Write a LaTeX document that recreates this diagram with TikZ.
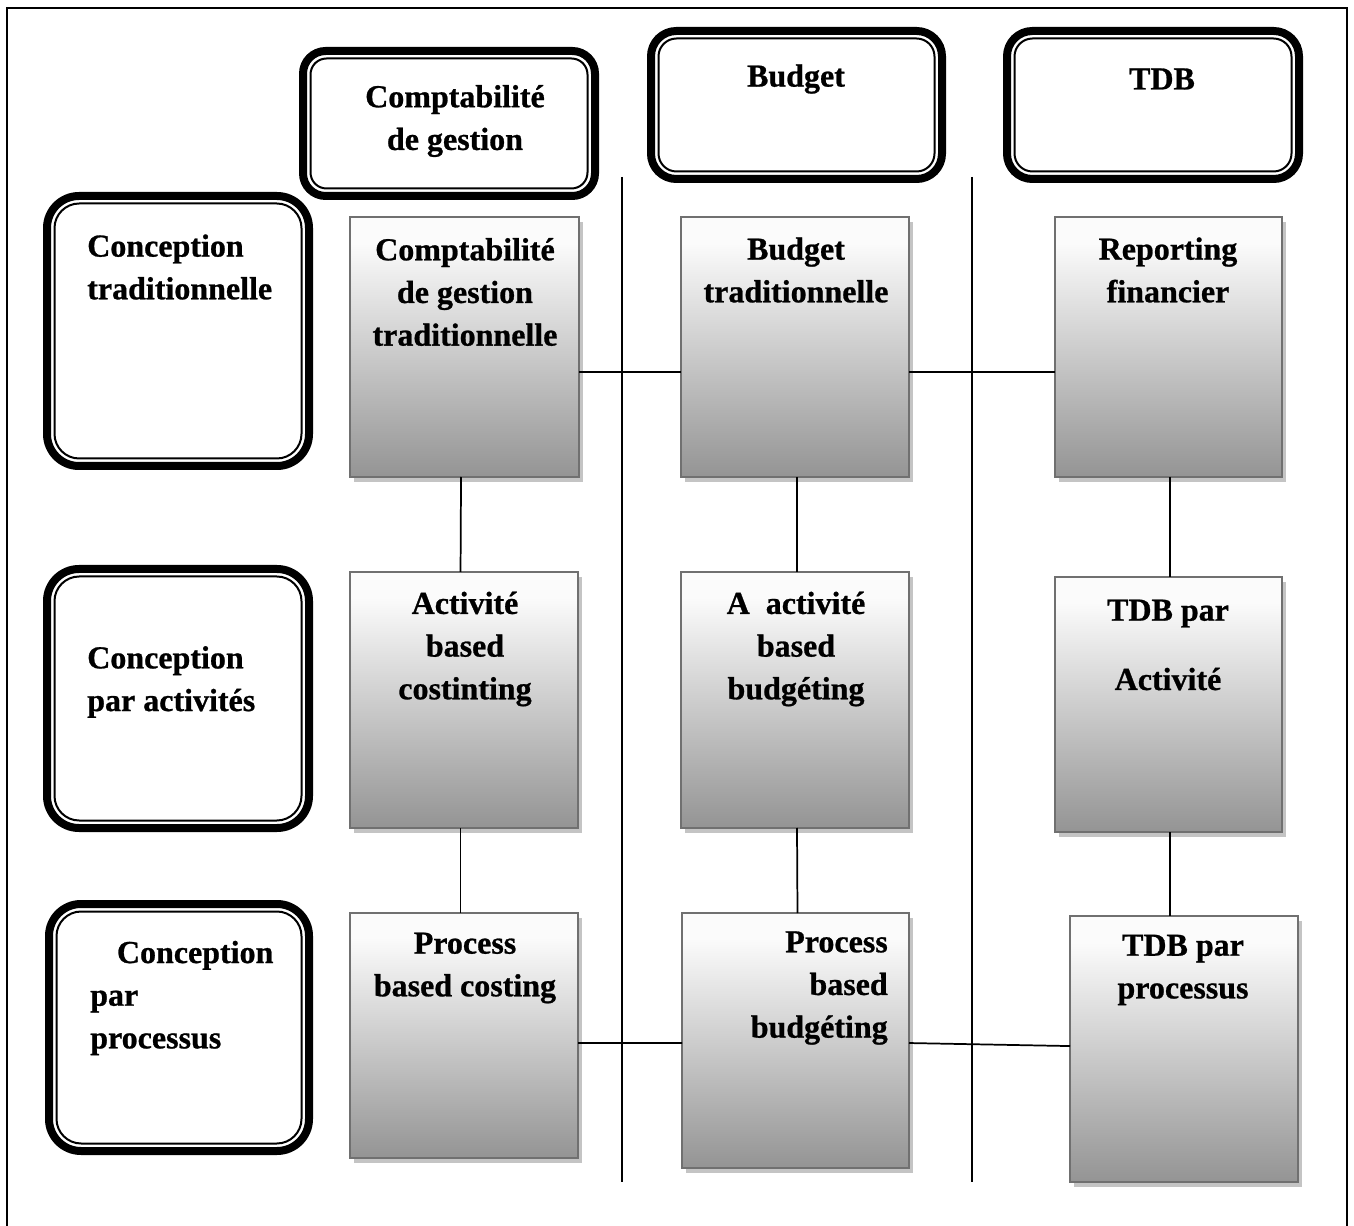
\documentclass[tikz,border=0pt]{standalone}
\usepackage{fontspec}
\setmainfont{Liberation Serif}[BoldFont={Liberation Serif Bold},BoldFeatures={FakeBold=0.8}]
\usetikzlibrary{calc}
\definecolor{shA}{RGB}{148,148,148}
\definecolor{shW}{RGB}{251,251,251}
\definecolor{boxedge}{RGB}{112,112,112}
\definecolor{shadowc}{RGB}{196,196,196}
\pgfdeclareverticalshading{boxshade}{100bp}{color(0bp)=(shA); color(25bp)=(shA); color(70bp)=(shW); color(100bp)=(shW)}
\newcommand\gbox[5]{%
  \fill[shadowc] ({#2+4},{#3+5}) rectangle ({#4+4},{#5+5});
  \node[gbox, minimum width={(#4-#2)*0.75pt}, minimum height={(#5-#3)*0.75pt}] (#1) at ({(#2+#4)/2},{(#3+#5)/2}) {};}
\newcommand\dbox[7]{%
  \node[dout, rounded corners=#6, minimum width={(#4-#2-8)*0.75pt}, minimum height={(#5-#3-8)*0.75pt}] (#1) at ({(#2+#4)/2},{(#3+#5)/2}) {};
  \draw[din, rounded corners=#7] ([shift={(7.5,7.5)}]#1.north west) rectangle ([shift={(-7.5,-7.5)}]#1.south east);}
\begin{document}
\begin{tikzpicture}[x=0.75pt,y=-0.75pt,
  lbl/.style={font=\fontsize{24}{32}\selectfont\bfseries, inner sep=0pt, align=center},
  gbox/.style={draw=boxedge, line width=1.5pt, shading=boxshade, outer sep=0pt, inner sep=0pt},
  dout/.style={draw, line width=6pt, outer sep=0pt, inner sep=0pt, fill=white},
  din/.style={draw, line width=1.5pt},
  conn/.style={line width=1.3pt},
  sepline/.style={line width=1.5pt}]
\useasboundingbox (0,0) rectangle (1354,1226);
% outer frame
\draw[line width=1.5pt] (7,1230) -- (7,8) -- (1347,8) -- (1347,1230);

% column separators
\coordinate (s1a) at (622,177); \coordinate (s1b) at (622,1182);
\coordinate (s2a) at (972,177); \coordinate (s2b) at (972,1182);
\draw[sepline] (s1a) -- (s1b);
\draw[sepline] (s2a) -- (s2b);

% header boxes
\dbox{h1}{299}{47}{599}{200}{17pt}{12pt}
\dbox{h2}{647}{27}{946}{183}{19pt}{13.5pt}
\dbox{h3}{1003}{27}{1303}{183}{19pt}{13.5pt}
% row boxes
\dbox{r1}{43}{192}{313}{470}{24pt}{18.5pt}
\dbox{r2}{43}{565}{313}{832}{24pt}{18.5pt}
\dbox{r3}{45}{900}{313}{1155}{24pt}{18.5pt}

% gray boxes
\gbox{b11}{350}{217}{579}{477}
\gbox{b12}{681}{217}{909}{477}
\gbox{b13}{1055}{217}{1282}{477}
\gbox{b21}{350}{572}{578}{828}
\gbox{b22}{681}{572}{909}{828}
\gbox{b23}{1055}{577}{1282}{832}
\gbox{b31}{350}{913}{578}{1158}
\gbox{b32}{682}{913}{909}{1168}
\gbox{b33}{1070}{916}{1298}{1182}

% connectors
\draw[conn] ([yshift=-18.75pt]b11.east) -- ([yshift=-18.75pt]b12.west);
\draw[conn] ([yshift=-18.75pt]b12.east) -- ([yshift=-18.75pt]b13.west);
\draw[conn] ([xshift=-2.6pt]b11.south) -- ([xshift=-2.6pt]b21.north);
\draw[conn] ([xshift=-2.6pt]b21.south) -- ([xshift=-2.6pt]b31.north);
\draw[conn] ([xshift=1.5pt]b12.south) -- ([xshift=1.5pt]b22.north);
\draw[conn] ([xshift=1.5pt]b22.south) -- ([xshift=1.5pt]b32.north);
\draw[conn] ([xshift=1pt]b13.south) -- ([xshift=1pt]b23.north);
\draw[conn] ([xshift=1pt]b23.south) -- ([xshift=1pt]b23.south |- b33.north);
\draw[conn] ([yshift=-5.6pt]b31.east) -- ([yshift=-1.9pt]b32.west);
\draw[conn] ([yshift=-1.9pt]b32.east) -- ([yshift=2.2pt]b33.west);

% texts
\node[lbl] (th1) at (455,121) {Comptabilité\\de gestion};
\node[lbl] (th2) at (796,79) {Budget};
\node[lbl] (th3) at (1162,79) {TDB};
\node[lbl, align=left, anchor=west] (tr1) at (87,267) {Conception\\traditionnelle};
\node[lbl, align=left, anchor=west] (tr2) at (87,682) {Conception\\par activités};
\node[lbl, align=left, anchor=west] (tr3) at (90,998) {\hspace*{20pt}Conception\\par\\processus};
\node[lbl] (t11) at (465,292) {Comptabilité\\de gestion\\traditionnelle};
\node[lbl] (t12) at (796,270) {Budget\\traditionnelle};
\node[lbl] (t13) at (1168,270) {Reporting\\financier};
\node[lbl] (t21) at (465,649) {Activité\\based\\costinting};
\node[lbl] (t22) at (796,649) {A\hspace{12pt}activité\\based\\budgéting};
\node[lbl] (t23) at (1168,645) {TDB par\\[20pt]Activité};
\node[lbl] (t31) at (465,968) {Process\\based costing};
\node[lbl, align=right, anchor=east] (t32) at (888,988) {Process\\based\\budgéting};
\node[lbl] (t33) at (1183,970) {TDB par\\processus};
\end{tikzpicture}
\end{document}
